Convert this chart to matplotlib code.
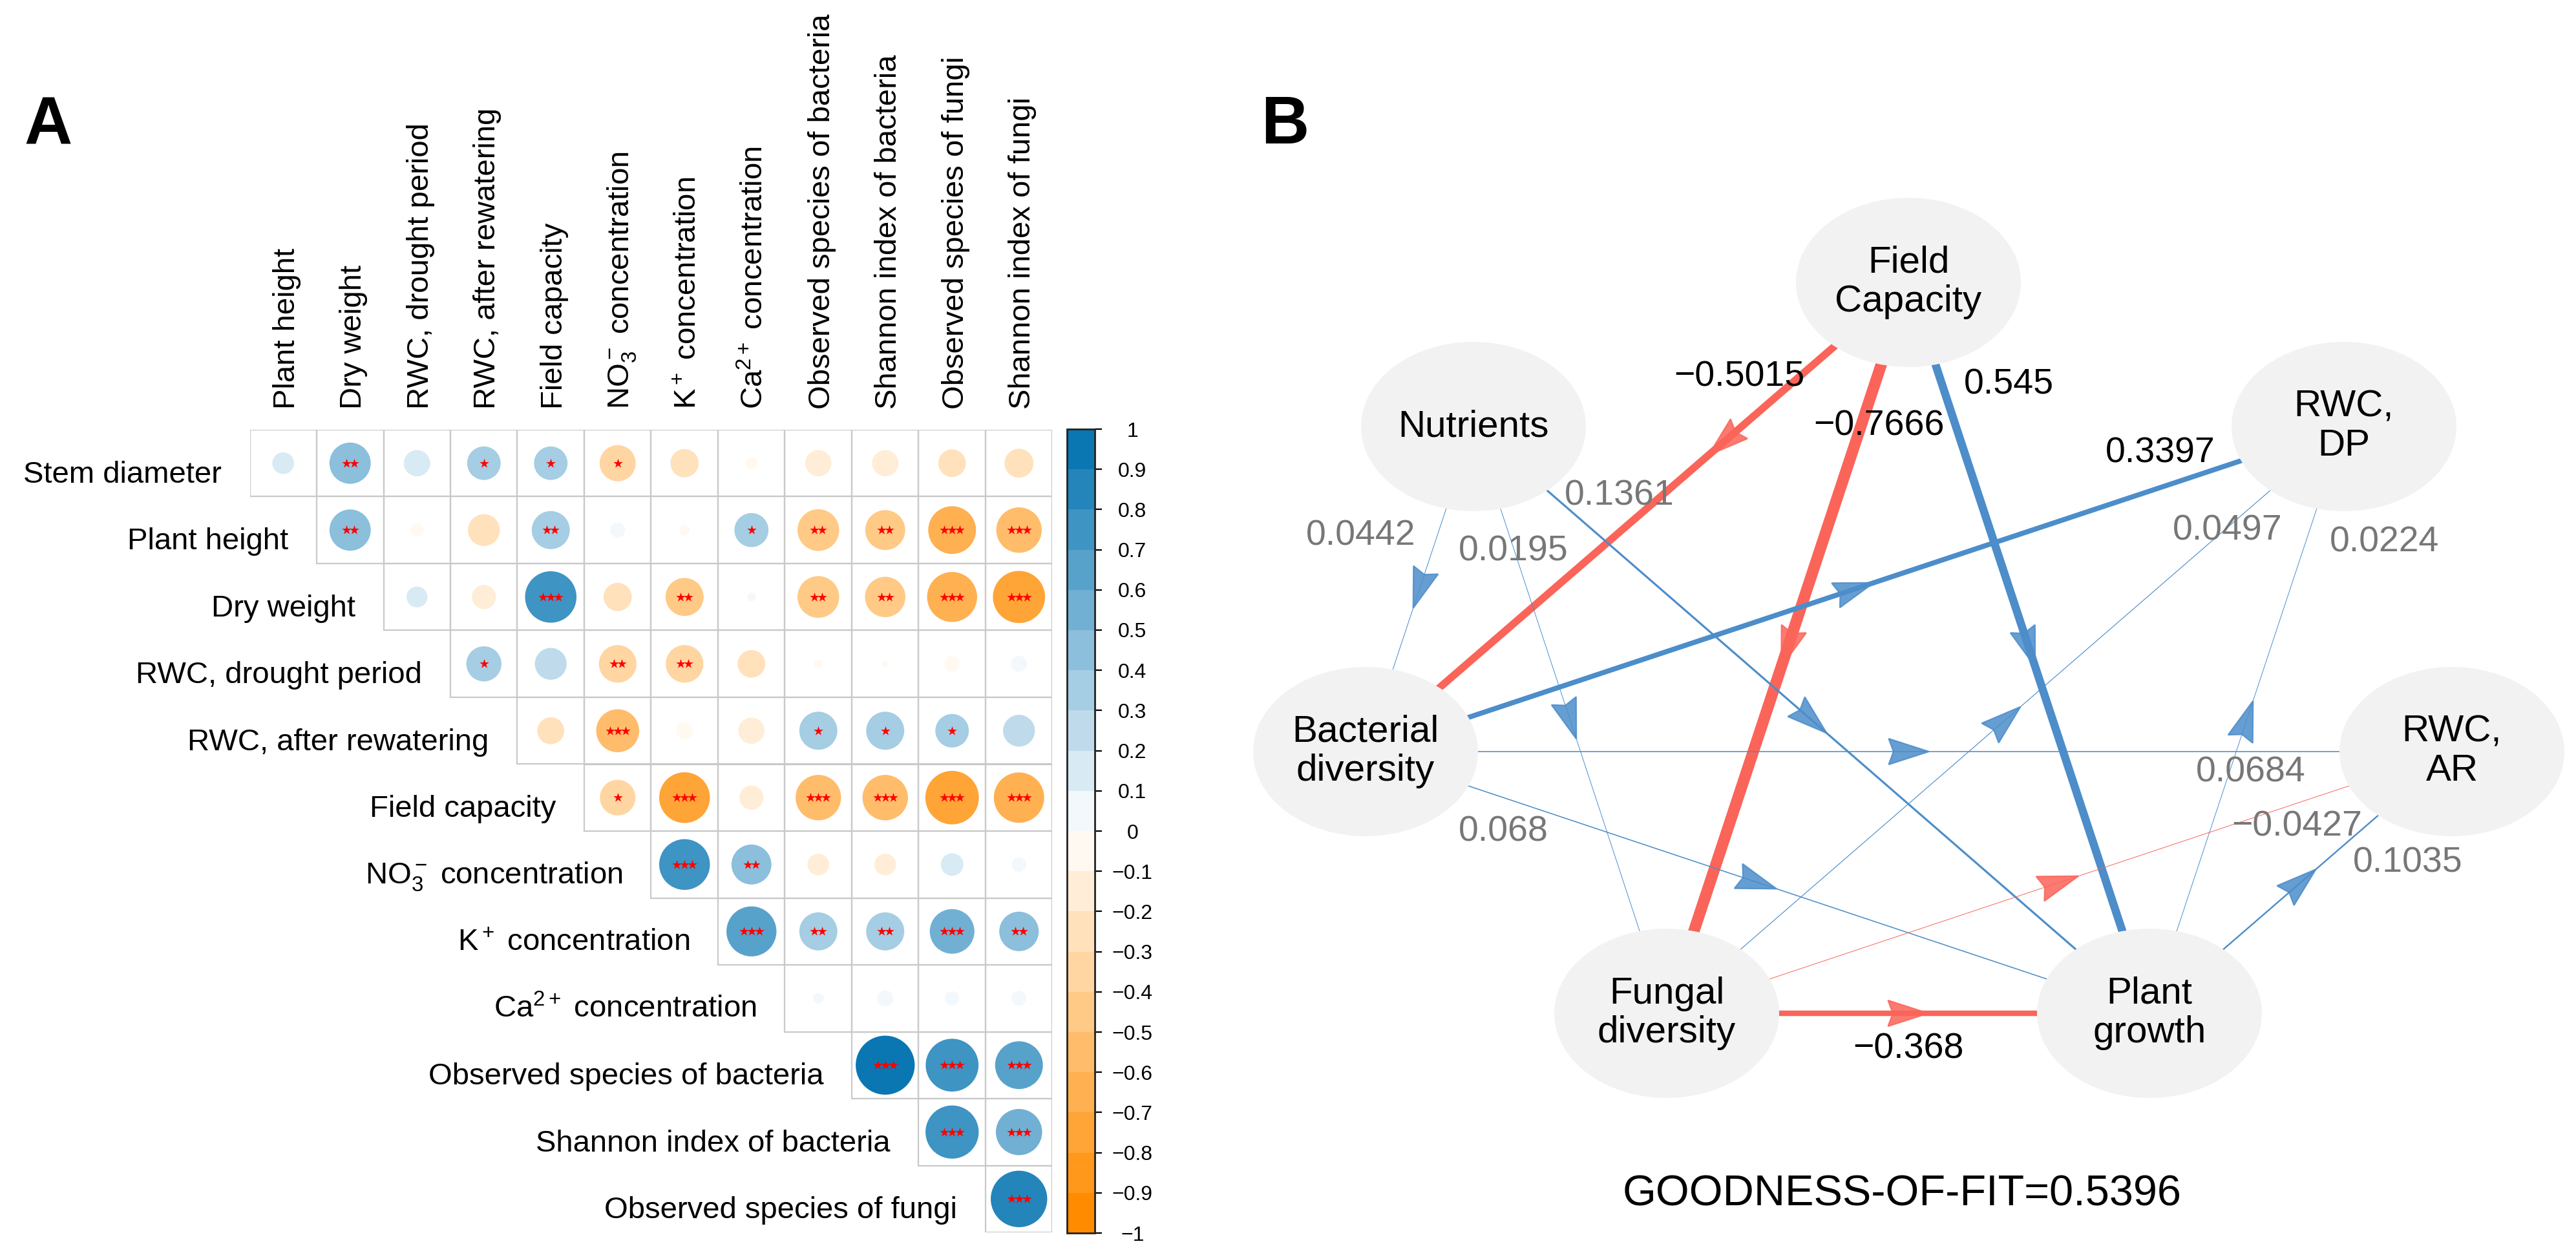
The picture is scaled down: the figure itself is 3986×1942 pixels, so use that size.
import numpy as np
import matplotlib
matplotlib.use('Agg')
import matplotlib.pyplot as plt
from matplotlib.colors import ListedColormap, BoundaryNorm, to_rgb
from matplotlib.patches import Circle, Ellipse, Polygon, Rectangle
from matplotlib.collections import PatchCollection
import matplotlib.cm as cm

plt.rcParams['font.family'] = ['Liberation Sans', 'DejaVu Sans']
plt.rcParams['mathtext.fontset'] = 'custom'
plt.rcParams['mathtext.rm'] = 'Liberation Sans'
plt.rcParams['mathtext.it'] = 'Liberation Sans:italic'
plt.rcParams['mathtext.bf'] = 'Liberation Sans:bold'

# ---------------- DATA: panel A (correlation matrix, upper triangle) ----------------
row_labels = ['Stem diameter', 'Plant height', 'Dry weight', 'RWC, drought period',
              'RWC, after rewatering', 'Field capacity', r'NO$_3^-$ concentration',
              r'K$^+$ concentration', r'Ca$^{2+}$ concentration',
              'Observed species of bacteria', 'Shannon index of bacteria',
              'Observed species of fungi']
col_labels = ['Plant height', 'Dry weight', 'RWC, drought period', 'RWC, after rewatering',
              'Field capacity', r'NO$_3^-$ concentration', r'K$^+$ concentration',
              r'Ca$^{2+}$ concentration', 'Observed species of bacteria',
              'Shannon index of bacteria', 'Observed species of fungi',
              'Shannon index of fungi']

# row i holds the correlations with columns i..11
corr_rows = [
    [0.13, 0.47, 0.19, 0.31, 0.31, -0.36, -0.22, -0.04, -0.19, -0.19, -0.21, -0.23],
    [0.47, -0.05, -0.28, 0.40, 0.06, -0.03, 0.32, -0.48, -0.44, -0.63, -0.57],
    [0.12, -0.16, 0.73, -0.22, -0.40, 0.02, -0.48, -0.45, -0.69, -0.75],
    [0.34, 0.28, -0.39, -0.39, -0.21, -0.02, -0.01, -0.07, 0.07],
    [-0.20, -0.51, -0.08, -0.19, 0.40, 0.40, 0.31, 0.28],
    [-0.35, -0.71, -0.16, -0.57, -0.57, -0.79, -0.70],
    [0.71, 0.44, -0.13, -0.13, 0.14, 0.06],
    [0.69, 0.40, 0.40, 0.55, 0.43],
    [0.03, 0.07, 0.055, 0.06],
    [0.96, 0.77, 0.63],
    [0.78, 0.59],
    [0.88],
]
# number of significance stars, same layout
star_rows = [
    [0, 2, 0, 1, 1, 1, 0, 0, 0, 0, 0, 0],
    [2, 0, 0, 2, 0, 0, 1, 2, 2, 3, 3],
    [0, 0, 3, 0, 2, 0, 2, 2, 3, 3],
    [1, 0, 2, 2, 0, 0, 0, 0, 0],
    [0, 3, 0, 0, 1, 1, 1, 0],
    [1, 3, 0, 3, 3, 3, 3],
    [3, 2, 0, 0, 0, 0],
    [3, 2, 2, 3, 2],
    [0, 0, 0, 0],
    [3, 3, 3],
    [3, 3],
    [3],
]
cbar_ticks = [round(-1 + 0.1 * k, 1) for k in range(21)]

# ---------------- DATA: panel B (path model) ----------------
node_names = ['Field\nCapacity', 'Nutrients', 'RWC,\nDP', 'Bacterial\ndiversity',
              'RWC,\nAR', 'Fungal\ndiversity', 'Plant\ngrowth']
edge_from = ['Field\nCapacity', 'Field\nCapacity', 'Field\nCapacity', 'Bacterial\ndiversity',
             'Nutrients', 'Nutrients', 'Nutrients', 'Fungal\ndiversity', 'Plant\ngrowth',
             'Bacterial\ndiversity', 'Bacterial\ndiversity', 'Fungal\ndiversity',
             'Plant\ngrowth', 'Fungal\ndiversity']
edge_to = ['Bacterial\ndiversity', 'Fungal\ndiversity', 'Plant\ngrowth', 'RWC,\nDP',
           'Bacterial\ndiversity', 'Fungal\ndiversity', 'Plant\ngrowth', 'RWC,\nDP',
           'RWC,\nDP', 'RWC,\nAR', 'Plant\ngrowth', 'RWC,\nAR', 'RWC,\nAR', 'Plant\ngrowth']
path_coef = [-0.5015, -0.7666, 0.545, 0.3397, 0.0442, 0.0195, 0.1361, 0.0497, 0.0224,
             0.0684, 0.068, -0.0427, 0.1035, -0.368]
gof_value = 0.5396

# ---------------- LAYOUT (pixels) ----------------
W, H = 3986, 1942
DPI = 200
grid_left, grid_top, cell = 386.5, 665.0, 103.5
n = 12

node_pos = {
    'Field\nCapacity': (2953, 437), 'Nutrients': (2280, 660), 'RWC,\nDP': (3627, 660),
    'Bacterial\ndiversity': (2113, 1163), 'RWC,\nAR': (3794, 1163),
    'Fungal\ndiversity': (2579, 1568), 'Plant\ngrowth': (3326, 1568),
}
node_hw, node_hh = 174, 131
label_pos = [(2691, 583), (2908, 660), (3108, 595), (3343, 701), (2106, 830), (2342, 853),
             (2506, 767), (3447, 821), (3690, 840), (3483, 1196), (2326, 1287),
             (3554, 1279), (3726, 1335), (2953, 1624)]
arrow_frac = [0.34] + [0.5] * (len(path_coef) - 1)

# ---------------- figure ----------------
fig = plt.figure(figsize=(W / DPI, H / DPI), dpi=DPI)
fig.patch.set_facecolor('white')

# colour map like corrplot: darkorange - white - blue, 20 levels
c_neg, c_pos = np.array(to_rgb('#FF8C00')), np.array(to_rgb('#0A77B3'))
white = np.ones(3)
cols = []
for k in range(20):
    t = k / 19
    if t <= 0.5:
        cols.append(c_neg + (white - c_neg) * (t / 0.5))
    else:
        cols.append(white + (c_pos - white) * ((t - 0.5) / 0.5))
cmap = ListedColormap(cols)
norm = BoundaryNorm(np.linspace(-1, 1, 21), 20)

axA = fig.add_axes([grid_left / W, 1 - (grid_top + n * cell) / H, n * cell / W, n * cell / H])
axA.set_xlim(0, n)
axA.set_ylim(n, 0)
axA.axis('off')

circles, vals = [], []
sx, sy = [], []
for i, (vals_row, stars_row) in enumerate(zip(corr_rows, star_rows)):
    for k, (r, s) in enumerate(zip(vals_row, stars_row)):
        j = i + k
        axA.add_patch(Rectangle((j, i), 1, 1, fill=False, edgecolor='#C9C9C9', lw=0.8, zorder=1))
        circles.append(Circle((j + 0.5, i + 0.5), 0.45 * np.sqrt(abs(r))))
        vals.append(r)
        for m in range(s):
            sx.append(j + 0.5 + (m - (s - 1) / 2) * 0.118)
            sy.append(i + 0.5)
pc = PatchCollection(circles, cmap=cmap, norm=norm, edgecolor='none', zorder=2)
pc.set_array(np.array(vals))
axA.add_collection(pc)
axA.scatter(sx, sy, marker='*', s=30, c='#FF0000', linewidths=0, zorder=3)

for i, lab in enumerate(row_labels):
    axA.text(i - 0.425, i + 0.5 + 0.29, lab, ha='right', va='baseline', fontsize=17,
             color='black')
for j, lab in enumerate(col_labels):
    axA.text(j + 0.5 + 0.17, -0.31, lab, rotation=90, rotation_mode='anchor',
             ha='left', va='baseline', fontsize=17, color='black')

cax = fig.add_axes([1651 / W, 1 - 1908 / H, 43 / W, 1244 / H])
sm = cm.ScalarMappable(norm=norm, cmap=cmap)
cb = fig.colorbar(sm, cax=cax, ticks=cbar_ticks)
cb.outline.set_linewidth(1.0)
cb.outline.set_edgecolor('#222222')
cax.set_yticklabels([('%g' % t).replace('-', '\u2212') for t in cbar_ticks])
cax.tick_params(axis='y', length=4, width=0.8, pad=17, labelsize=11.5)
for t in cax.get_yticklabels():
    t.set_horizontalalignment('center')

# ---------------- panel B ----------------
axB = fig.add_axes([0, 0, 1, 1])
axB.set_xlim(0, W)
axB.set_ylim(H, 0)
axB.axis('off')
axB.patch.set_alpha(0)

pos_col, neg_col = '#4C8DCA', '#FB6459'
for a, b, c, lp, f in zip(edge_from, edge_to, path_coef, label_pos, arrow_frac):
    p0, p1 = np.array(node_pos[a], float), np.array(node_pos[b], float)
    colr = pos_col if c > 0 else neg_col
    lw = max(0.35, 8.3 * abs(c))
    axB.plot([p0[0], p1[0]], [p0[1], p1[1]], color=colr, lw=lw, solid_capstyle='butt', zorder=1)
    u = (p1 - p0) / np.linalg.norm(p1 - p0)
    nrm = np.array([-u[1], u[0]])
    mid = p0 + f * (p1 - p0)
    L, hw = 62, 20
    tip = mid + u * L / 2
    base = mid - u * L / 2
    notch = base + u * L * 0.12
    axB.add_patch(Polygon([tip, base + nrm * hw, notch, base - nrm * hw], closed=True,
                          facecolor=colr, edgecolor=colr, lw=0.8, alpha=0.85, zorder=2))
    txt = ('%g' % c).replace('-', '\u2212')
    axB.text(lp[0], lp[1], txt, ha='center', va='center', fontsize=20,
             color='black' if abs(c) >= 0.3 else '#777777', zorder=5)

for name in node_names:
    x, y = node_pos[name]
    axB.add_patch(Ellipse((x, y), 2 * node_hw, 2 * node_hh, facecolor='#F2F2F2',
                          edgecolor='none', zorder=3))
    axB.text(x, y, name, ha='center', va='center', fontsize=21, color='black',
             linespacing=1.15, zorder=4)

axB.text(2943, 1848, 'GOODNESS-OF-FIT=%g' % gof_value, ha='center', va='center',
         fontsize=24, color='black')

fig.text(75 / W, 1 - 196 / H, 'A', fontsize=37, fontweight='bold', ha='center', va='center')
fig.text(1988 / W, 1 - 196 / H, 'B', fontsize=37, fontweight='bold', ha='center', va='center')

fig.savefig('out.png', dpi=DPI, facecolor='white')
